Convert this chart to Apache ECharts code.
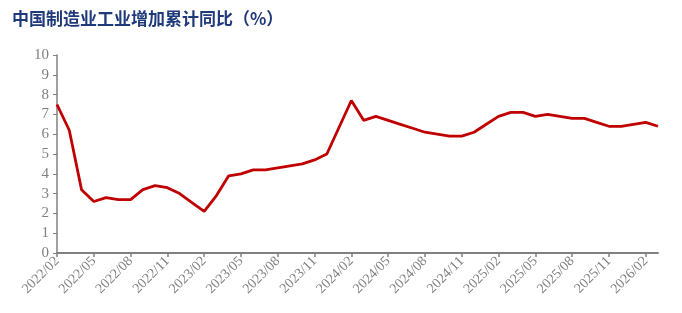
<!DOCTYPE html>
<html><head><meta charset="utf-8">
<script src="https://cdn.jsdelivr.net/npm/echarts@6/dist/echarts.min.js"></script>
<style>html,body{margin:0;padding:0;background:#fff}#c{width:682px;height:313px}</style>
</head><body><div id="c"></div>
<script>
const months = [];
for (let y = 2022; y <= 2026; y++) {
  for (let m = 1; m <= 12; m++) {
    if (y === 2022 && m < 2) continue;
    if (y === 2026 && m > 3) continue;
    months.push(y + '/' + String(m).padStart(2, '0'));
  }
}
const values = [
  7.5, 6.2, 3.2, 2.6, 2.8, 2.7, 2.7, 3.2, 3.4, 3.3, 3.0, 2.55,
  2.1, 2.9, 3.9, 4.0, 4.2, 4.2, 4.3, 4.4, 4.5, 4.7, 5.0, 6.35,
  7.7, 6.7, 6.9, 6.7, 6.5, 6.3, 6.1, 6.0, 5.9, 5.9, 6.1, 6.5,
  6.9, 7.1, 7.1, 6.9, 7.0, 6.9, 6.8, 6.8, 6.6, 6.4, 6.4, 6.5,
  6.6, 6.4
];
const titleText = '中国制造业工业增加累计同比（%）';

const chart = echarts.init(document.getElementById('c'));
chart.setOption({
  animation: false,
  title: {
    text: titleText, left: 7, top: 5,
    textStyle: { fontFamily: 'Noto Sans CJK SC', fontWeight: 'bold', fontSize: 17, color: '#1F3A7A' }
  },
  grid: { left: 57, right: 24, top: 55, bottom: 60 },
  xAxis: {
    type: 'category', data: months, boundaryGap: false,
    axisLine: { lineStyle: { color: '#808080', width: 2 } },
    axisTick: { show: true, interval: 2, length: 4, lineStyle: { color: '#808080', width: 1.5 } },
    axisLabel: { interval: 2, rotate: 45, color: '#808080', fontFamily: 'Liberation Serif', fontSize: 14, margin: 6 }
  },
  yAxis: {
    type: 'value', min: 0, max: 10, interval: 1,
    splitLine: { show: false },
    axisLine: { show: true, lineStyle: { color: '#808080', width: 1.5 } },
    axisTick: { show: true, length: 4, lineStyle: { color: '#808080' } },
    axisLabel: { color: '#808080', fontFamily: 'Liberation Serif', fontSize: 15, margin: 8 }
  },
  series: [{
    type: 'line', data: values, showSymbol: false,
    lineStyle: { color: '#C00000', width: 2.8 }, itemStyle: { color: '#C00000' }
  }]
});
</script></body></html>
